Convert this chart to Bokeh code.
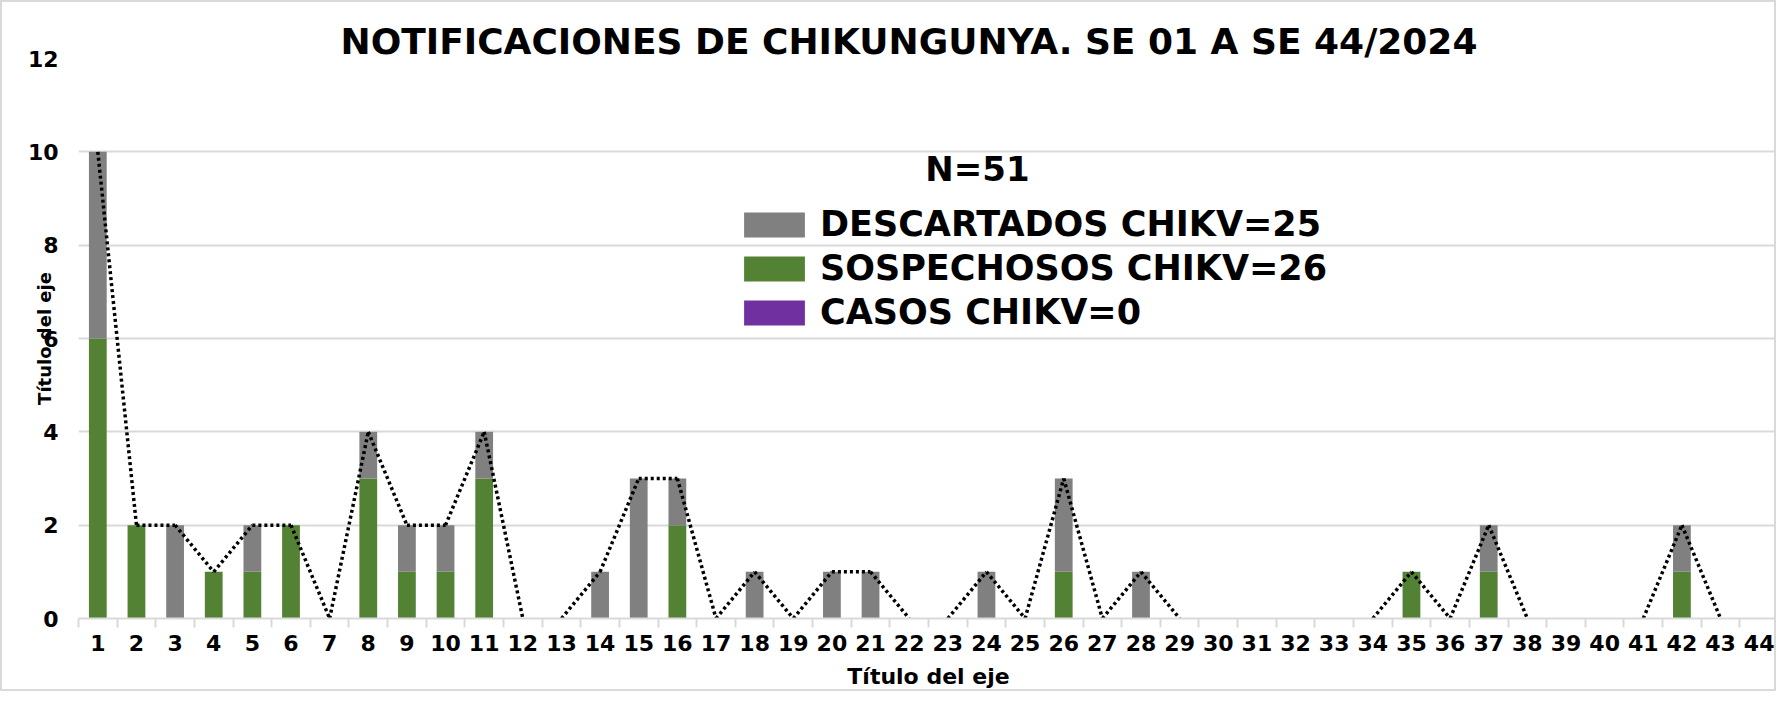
from bokeh.plotting import figure
from bokeh.models import ColumnDataSource, FixedTicker, Label, Legend, LegendItem, Range1d
from bokeh.embed import file_html
from bokeh.resources import INLINE

# ---- data ----
weeks = list(range(1, 45))
sospechosos = [6, 2, 0, 1, 1, 2, 0, 3, 1, 1, 3, 0, 0, 0, 0, 2,
               0, 0, 0, 0, 0, 0, 0, 0, 0, 1,
               0, 0, 0, 0, 0, 0, 0, 0, 1, 0, 1,
               0, 0, 0, 0, 1, 0, 0]
descartados = [4, 0, 2, 0, 1, 0, 0, 1, 1, 1, 1, 0, 0, 1, 3, 1,
               0, 1, 0, 1, 1, 0, 0, 1, 0, 2,
               0, 1, 0, 0, 0, 0, 0, 0, 0, 0, 1,
               0, 0, 0, 0, 1, 0, 0]
casos = [0] * 44
legend_labels = ["DESCARTADOS CHIKV=25", "SOSPECHOSOS CHIKV=26", "CASOS CHIKV=0"]
title_text = "NOTIFICACIONES DE CHIKUNGUNYA. SE 01 A SE 44/2024"
n_text = "N=51"
axis_title = "Título del eje"

totals = [a + b + c for a, b, c in zip(sospechosos, descartados, casos)]

# segments of the total line (skip runs of zeros)
sx0, sy0, sx1, sy1 = [], [], [], []
for i in range(len(weeks) - 1):
    if totals[i] > 0 or totals[i + 1] > 0:
        sx0.append(weeks[i]); sy0.append(totals[i])
        sx1.append(weeks[i + 1]); sy1.append(totals[i + 1])

GREEN = "#548235"
GRAY = "#808080"
PURPLE = "#7030A0"
GRID = "#d9d9d9"
BOLD_FONT = "DejaVu Sans"

src = ColumnDataSource(dict(week=weeks, sospechosos=sospechosos,
                            descartados=descartados, casos=casos))

p = figure(width=1776, height=691, output_backend="svg", toolbar_location=None,
           x_range=Range1d(0.5, 44.5), y_range=Range1d(0, 12),
           min_border_left=76, min_border_right=0, min_border_top=56,
           min_border_bottom=75)
p.outline_line_color = None
p.background_fill_color = "white"
p.border_fill_color = "white"
p.styles = {"border": "2px solid #d9d9d9"}

p.title.text = title_text
p.title.text_font = BOLD_FONT
p.title.text_font_style = "bold"
p.title.text_font_size = "36px"
p.title.text_color = "black"
p.title.align = "left"
p.title.offset = 262
p.title.standoff = -6

rs = p.vbar_stack(["sospechosos", "descartados", "casos"], x="week", width=0.46,
                  fill_color=[GREEN, GRAY, PURPLE], line_color=None, source=src)

p.segment(x0=sx0, y0=sy0, x1=sx1, y1=sy1, line_color="black",
          line_width=3.5, line_dash="3 3")

# axes
p.xaxis.ticker = FixedTicker(ticks=weeks, minor_ticks=[w - 0.5 for w in weeks] + [44.5])
p.xaxis.major_tick_line_color = None
p.xaxis.minor_tick_line_color = GRID
p.xaxis.minor_tick_line_width = 2
p.xaxis.minor_tick_out = 9
p.xaxis.minor_tick_in = 0
p.xaxis.axis_line_color = GRID
p.xaxis.axis_line_width = 2
p.xaxis.major_label_text_font = BOLD_FONT
p.xaxis.major_label_text_font_style = "bold"
p.xaxis.major_label_text_font_size = "22px"
p.xaxis.major_label_text_color = "black"
p.xaxis.major_label_standoff = 7
p.xaxis.axis_label = axis_title
p.xaxis.axis_label_text_font = BOLD_FONT
p.xaxis.axis_label_text_font_style = "bold"
p.xaxis.axis_label_text_font_size = "22px"
p.xaxis.axis_label_text_color = "black"
p.xaxis.axis_label_standoff = 10

p.yaxis.ticker = FixedTicker(ticks=[0, 2, 4, 6, 8, 10, 12])
p.yaxis.axis_line_color = None
p.yaxis.major_tick_line_color = None
p.yaxis.minor_tick_line_color = None
p.yaxis.major_label_text_font = BOLD_FONT
p.yaxis.major_label_text_font_style = "bold"
p.yaxis.major_label_text_font_size = "22px"
p.yaxis.major_label_text_color = "black"
p.yaxis.major_label_standoff = 14
p.yaxis.axis_label = axis_title
p.yaxis.axis_label_text_font = BOLD_FONT
p.yaxis.axis_label_text_font_style = "bold"
p.yaxis.axis_label_text_font_size = "18px"
p.yaxis.axis_label_text_color = "black"
p.yaxis.axis_label_standoff = -30

p.xgrid.grid_line_color = None
p.ygrid.grid_line_color = GRID
p.ygrid.grid_line_width = 2

# N label
p.add_layout(Label(x=899, y=450, x_units="screen", y_units="screen", text=n_text,
                   text_font=BOLD_FONT, text_font_style="bold", text_font_size="34px",
                   text_align="center", text_baseline="middle", text_color="black"))

legend = Legend(items=[LegendItem(label=legend_labels[0], renderers=[rs[1]]),
                       LegendItem(label=legend_labels[1], renderers=[rs[0]]),
                       LegendItem(label=legend_labels[2], renderers=[rs[2]])],
                location=(658, 286), orientation="vertical",
                glyph_width=76, glyph_height=31, label_standoff=8, spacing=4,
                padding=0, margin=0, background_fill_alpha=0, border_line_color=None,
                label_text_font=BOLD_FONT, label_text_font_style="bold",
                label_text_font_size="35px", label_text_color="black")
p.add_layout(legend)

open("out.html", "w").write(file_html(p, INLINE))
